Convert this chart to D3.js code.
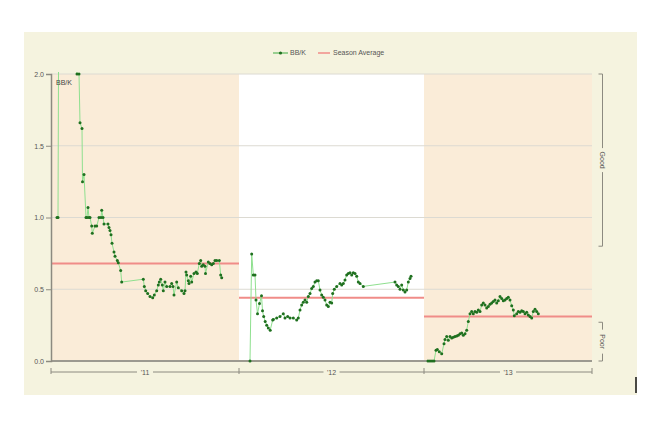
<!DOCTYPE html>
<html><head><meta charset="utf-8">
<script src="https://cdn.jsdelivr.net/npm/d3@7"></script>
<style>body{margin:0;background:#fff;}svg{display:block;font-family:"Liberation Sans",Arial,sans-serif;}</style>
</head><body><svg id="c" width="649" height="433"></svg>
<script>
// ---- data ----
const seasonLabels = ["'11", "'12", "'13"];
const seasonStart = [-1, 187, 372];      // timeline day where each season band starts
const seasonEnd = [187, 372, 540];
const seasonOffset = [0, 186, 370];      // timeline offset for game days of each season
const seasonAverage = [0.68, 0.44, 0.31];
const yTicks = [0, 0.5, 1.0, 1.5, 2.0];
const ratingBands = [{label: "Good", lo: 0.8, hi: 2.0}, {label: "Poor", lo: 0, hi: 0.27}];

// BB/K per game: [day of season, value]
const bbk2011 = [[5,1.0],[6,1.0],[7,3.0],[24,3.0],[25,2.0],[27,2.0],[28,1.66],[30,1.62],[30.5,1.25],[32,1.30],[34,1.0],[35,1.0],[36,1.07],[37,1.0],[38,1.0],[39.7,0.94],[40.3,0.89],[43,0.94],[44.7,0.94],[47,1.0],[49,1.0],[49.7,1.05],[51,1.0],[52,0.955],[56,0.955],[57,0.93],[58,0.91],[59,0.88],[60,0.82],[62,0.76],[63,0.73],[65.3,0.70],[66.3,0.685],[68.7,0.63],[69.7,0.55],[91.3,0.57],[92.3,0.52],[93.7,0.49],[95.7,0.47],[98,0.45],[100.7,0.44],[102.3,0.46],[104.7,0.49],[106.3,0.53],[107.3,0.55],[108.7,0.57],[110.3,0.53],[111.3,0.49],[113,0.55],[114.7,0.52],[118,0.52],[119.7,0.54],[121,0.52],[122,0.46],[124.7,0.55],[126.3,0.51],[129.7,0.49],[132,0.47],[133,0.49],[134,0.62],[134.7,0.60],[136.3,0.56],[137,0.54],[138.7,0.59],[139.7,0.55],[142,0.61],[144,0.62],[145.3,0.61],[147.3,0.68],[148.7,0.70],[149.7,0.66],[151.3,0.67],[153,0.66],[153.5,0.61],[156.3,0.69],[158,0.68],[159.7,0.67],[161.3,0.68],[163,0.70],[164.7,0.70],[167.3,0.70],[168.7,0.60],[169.7,0.58]];
const bbk2012 = [[12,0.0],[13.7,0.745],[15.3,0.60],[17,0.60],[18,0.425],[19.5,0.33],[21.5,0.40],[23.5,0.455],[24.5,0.35],[25.7,0.31],[27.2,0.275],[28.7,0.25],[30.3,0.23],[32.2,0.215],[34.7,0.285],[35.3,0.29],[38.7,0.30],[42,0.31],[45.3,0.33],[47,0.30],[49.7,0.31],[52,0.30],[55.3,0.30],[58.7,0.285],[60.3,0.30],[62,0.355],[63.7,0.39],[65.3,0.41],[67,0.425],[68.7,0.41],[70.3,0.45],[72,0.47],[73.7,0.505],[75.3,0.52],[77,0.55],[78.7,0.56],[80.3,0.56],[82,0.495],[83.7,0.46],[85.3,0.445],[87,0.425],[88.7,0.39],[90.3,0.38],[92,0.41],[93.7,0.405],[94.7,0.47],[96.3,0.50],[98.7,0.52],[102,0.54],[103.7,0.53],[105.3,0.54],[107,0.565],[108.7,0.60],[110.3,0.61],[112,0.615],[113.7,0.60],[115.3,0.615],[117,0.61],[118.7,0.59],[120.3,0.55],[122,0.54],[125.3,0.52],[157,0.55],[158.7,0.53],[160.3,0.52],[162,0.50],[163.7,0.53],[165.3,0.495],[167,0.48],[168.7,0.495],[170.3,0.55],[172,0.575],[173,0.59]];
const bbk2013 = [[6,0.0],[8,0.0],[10,0.0],[12,0.0],[14,0.075],[15.3,0.08],[17.3,0.065],[19.7,0.05],[22,0.12],[23,0.15],[24.7,0.17],[26.3,0.145],[28,0.17],[29.7,0.16],[31.3,0.165],[33,0.17],[34.7,0.175],[36.3,0.18],[38,0.19],[39.7,0.195],[41.3,0.18],[43,0.19],[44.7,0.215],[46.3,0.275],[48,0.33],[49.7,0.345],[51.3,0.33],[53,0.345],[54.7,0.34],[56.3,0.355],[58,0.345],[59.7,0.39],[61.3,0.405],[63,0.39],[64.7,0.37],[66.3,0.38],[68,0.395],[69.7,0.405],[71.3,0.415],[73,0.425],[74.7,0.405],[76.3,0.42],[78,0.45],[79.7,0.435],[81.3,0.42],[83,0.425],[84.7,0.435],[86.3,0.445],[88,0.425],[89.7,0.385],[91.3,0.355],[92.3,0.315],[94.7,0.33],[96.3,0.345],[98,0.34],[99.7,0.35],[101.3,0.345],[103,0.33],[104.7,0.34],[106.3,0.32],[108,0.31],[109.7,0.30],[111.3,0.345],[113,0.36],[114.7,0.345],[116.3,0.33]];
const seasons = [bbk2011, bbk2012, bbk2013];

// ---- layout ----
const svg = d3.select("#c");
const x = d3.scaleLinear().domain([-1, 540]).range([51, 592]);
const y = d3.scaleLinear().domain([0, 2]).range([361, 74]);
const font = "#555";

svg.append("rect").attr("x", 24).attr("y", 32).attr("width", 613).attr("height", 363).attr("fill", "#f5f3df");

const bandFill = ["#faecd8", "#ffffff", "#faecd8"];
seasonLabels.forEach((s, i) => {
  svg.append("rect").attr("x", x(seasonStart[i])).attr("y", y(2))
    .attr("width", x(seasonEnd[i]) - x(seasonStart[i])).attr("height", y(0) - y(2))
    .attr("fill", bandFill[i]);
});

// grid
svg.append("g").selectAll("line").data(yTicks.filter(d => d > 0)).join("line")
  .attr("x1", x(-1)).attr("x2", x(540)).attr("y1", d => y(d)).attr("y2", d => y(d))
  .attr("stroke", "#dcdad2").attr("stroke-width", 1);

// x base line
svg.append("line").attr("x1", x(-1)).attr("x2", x(540)).attr("y1", y(0)).attr("y2", y(0))
  .attr("stroke", "#9c9a90").attr("stroke-width", 2);

// season averages
seasonAverage.forEach((a, i) => {
  svg.append("line").attr("x1", x(seasonStart[i])).attr("x2", x(seasonEnd[i]))
    .attr("y1", y(a)).attr("y2", y(a)).attr("stroke", "#f08c88").attr("stroke-width", 2);
});

// lines + dots (clipped to plot)
svg.append("clipPath").attr("id", "clip").append("rect")
  .attr("x", x(-1)).attr("y", y(2) - 2).attr("width", x(540) - x(-1) + 2).attr("height", y(0) - y(2) + 4);
const plot = svg.append("g").attr("clip-path", "url(#clip)");
const line = d3.line().x(d => d[0]).y(d => d[1]);
seasons.forEach((data, i) => {
  const pts = data.map(d => [x(seasonOffset[i] + d[0]), y(d[1])]);
  plot.append("path").attr("d", line(pts)).attr("fill", "none").attr("stroke", "#8fe08f").attr("stroke-width", 1);
  plot.append("g").selectAll("circle").data(pts).join("circle")
    .attr("cx", d => d[0]).attr("cy", d => d[1]).attr("r", 1.5).attr("fill", "#1f701f");
});

// y axis
const ya = svg.append("g").attr("transform", `translate(${x(-1)},0)`)
  .call(d3.axisLeft(y).tickValues(yTicks).tickFormat(d3.format(".1f")).tickSize(5).tickPadding(2));
ya.select(".domain").attr("stroke", "#8c8a80").attr("stroke-width", 1.5);
ya.selectAll(".tick line").attr("stroke", "#8c8a80");
ya.selectAll("text").attr("fill", font).attr("font-size", 7).attr("font-family", "Liberation Sans, Arial, sans-serif");

// axis title inside plot
svg.append("text").attr("x", x(4)).attr("y", y(2) + 11).text("BB/K")
  .attr("font-size", 7).attr("fill", "#444");

// x category brackets
const by = 372;
const bx = svg.append("g").attr("stroke", "#8c8a80").attr("stroke-width", 1).attr("fill", "none");
seasonLabels.forEach((s, i) => {
  const x0 = x(seasonStart[i]), x1 = x(seasonEnd[i]), cx = (x0 + x1) / 2;
  bx.append("line").attr("x1", x0).attr("x2", cx - 8).attr("y1", by).attr("y2", by);
  bx.append("line").attr("x1", cx + 8).attr("x2", x1).attr("y1", by).attr("y2", by);
  svg.append("text").attr("x", cx).attr("y", by + 2.5).attr("text-anchor", "middle")
    .attr("font-size", 7).attr("fill", font).text(s);
});
[seasonStart[0], seasonEnd[0], seasonEnd[1], seasonEnd[2]].forEach(d => {
  bx.append("line").attr("x1", x(d)).attr("x2", x(d)).attr("y1", by - 4).attr("y2", by + 2);
});

// right rating brackets
const rx = 602.5;
ratingBands.forEach(b => {
  const y0 = y(b.hi), y1 = y(b.lo), cy = (y0 + y1) / 2;
  const g = svg.append("g").attr("stroke", "#8c8a80").attr("stroke-width", 1).attr("fill", "none");
  g.append("path").attr("d", `M${rx - 4},${y0}H${rx}V${cy - 12}M${rx},${cy + 12}V${y1}H${rx - 4}`);
  svg.append("text").attr("transform", `translate(${rx},${cy}) rotate(90)`)
    .attr("text-anchor", "middle").attr("dy", "0.35em").attr("font-size", 7).attr("fill", font).text(b.label);
});

// legend
const lg = svg.append("g").attr("transform", "translate(0,53)");
lg.append("line").attr("x1", 273).attr("x2", 288).attr("stroke", "#5cb85c").attr("stroke-width", 1.2);
lg.append("circle").attr("cx", 280.5).attr("r", 1.6).attr("fill", "#1f701f");
lg.append("text").attr("x", 290).attr("dy", "0.35em").attr("font-size", 7).attr("fill", font).text("BB/K");
lg.append("line").attr("x1", 318).attr("x2", 330).attr("stroke", "#f08c88").attr("stroke-width", 1.5);
lg.append("text").attr("x", 333).attr("dy", "0.35em").attr("font-size", 7).attr("fill", font).text("Season Average");

// small dark mark at right edge
svg.append("line").attr("x1", 636).attr("x2", 636).attr("y1", 377).attr("y2", 393).attr("stroke", "#111").attr("stroke-width", 1.5);
</script></body></html>
